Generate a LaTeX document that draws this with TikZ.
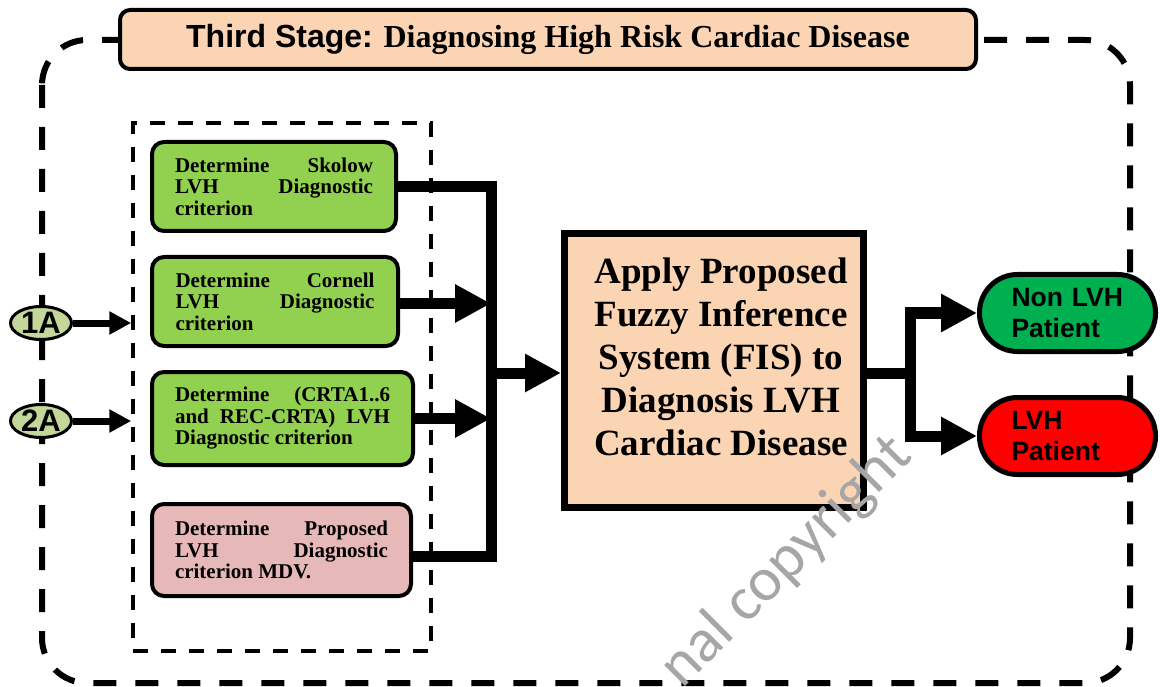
\documentclass[tikz,border=0pt]{standalone}
\usepackage{fontspec}
\setmainfont{Liberation Serif}
\newfontfamily\headsans{Liberation Sans}
\newfontfamily\markfont{Carlito}
\usetikzlibrary{arrows.meta,shapes.geometric}

\definecolor{peach}{HTML}{FBD4B4}
\definecolor{leaf}{HTML}{92D050}
\definecolor{rose}{HTML}{E6B9B8}
\definecolor{olive}{HTML}{C4D79B}
\definecolor{okgreen}{HTML}{00B050}
\definecolor{alarm}{HTML}{FF0000}

\begin{document}
\begin{tikzpicture}[x=1pt,y=-1pt,
  outerframe/.style={line width=6pt, dash pattern=on 23pt off 19pt, rounded corners=45pt},
  groupframe/.style={draw, line width=3.5pt, dash pattern=on 15pt off 13pt,
    inner sep=0pt, minimum width=298pt, minimum height=528pt},
  titlebox/.style={draw, fill=peach, line width=4pt, rounded corners=10pt,
    minimum width=856pt, minimum height=59pt, inner sep=0pt,
    font=\bfseries\fontsize{32}{36}\selectfont},
  critbox/.style={draw, line width=4pt, rounded corners=12pt, inner xsep=0pt,
    inner ysep=0pt, align=justify, font=\bfseries\fontsize{21}{21.5}\selectfont},
  fisbox/.style={draw, fill=peach, line width=7pt, minimum width=299pt,
    minimum height=274pt, inner sep=0pt},
  fistext/.style={inner sep=0pt, align=center, font=\bfseries\fontsize{37}{43}\selectfont},
  pill/.style={draw, line width=5pt, rounded corners=38pt, minimum width=176pt,
    minimum height=77pt, inner sep=0pt, text width=112pt, align=left,
    font=\headsans\bfseries\fontsize{26.5}{31}\selectfont},
  inlet/.style={ellipse, draw, fill=olive, line width=3pt, minimum width=61pt,
    minimum height=33pt, inner sep=0pt, font=\headsans\bfseries\fontsize{31}{32}\selectfont},
  conn/.style={line width=11pt, line join=miter},
  bigtip/.style={-{Triangle[length=36pt,width=36pt]}},
  feed/.style={line width=7pt, -{Triangle[length=22pt,width=22pt]}}
]
\useasboundingbox (0,0) rectangle (1160,687);

% outer stage frame
\draw[outerframe] (42,40) rectangle (1130,683);

% stage title
\node[titlebox] (title) at (548,39.5) {\raisebox{-2pt}{{\headsans Third Stage:} Diagnosing High Risk Cardiac Disease}};

% group of diagnostic criteria
\node[groupframe] (grp) at (282,387) {};

\node[critbox, fill=leaf, minimum width=244pt, minimum height=89pt, text width=198pt]
  (sk) at (274,186.5) {Determine\hfill Skolow\\LVH\hfill Diagnostic\\criterion};
\node[critbox, fill=leaf, minimum width=246pt, minimum height=89pt, text width=199pt]
  (cn) at (275,301.5) {Determine\hfill Cornell\\LVH\hfill Diagnostic\\criterion};
\node[critbox, fill=leaf, minimum width=261pt, minimum height=93pt, text width=215pt]
  (cr) at (282.5,418.5) {Determine\hfill (CRTA1..6\\and\hfill REC-CRTA)\hfill LVH\\Diagnostic criterion};
\node[critbox, fill=rose, minimum width=259pt, minimum height=92pt, text width=213pt]
  (md) at (281.5,550) {Determine\hfill Proposed\\LVH\hfill Diagnostic\\criterion MDV.};

% inputs
\node[inlet] (in1) at (41,323) {1A};
\node[inlet] (in2) at (41,421) {2A};
\draw[feed] (in1.east) -- (in1.east -| grp.west);
\draw[feed] (in2.east) -- (in2.east -| grp.west);

% fuzzy inference system
\node[fisbox] (fis) at (714,370.5) {};
\node[fistext] (fist) at (721,357) {Apply Proposed\\Fuzzy Inference\\System (FIS) to\\Diagnosis LVH\\Cardiac Disease};

% outcomes
\node[pill, fill=okgreen] (non) at (1067.5,313) {Non LVH\\Patient};
\node[pill, fill=alarm] (lvh) at (1067.5,436) {LVH\\Patient};

% collecting bus
\coordinate (jb) at (491,556);
\coordinate (jm) at (491,373);
\draw[conn] (sk.east) -| (jb) -- ([yshift=-6pt]md.east);
\draw[conn, bigtip] ([yshift=-2pt]cn.east) -- ([yshift=-2pt]cn.east -| jb);
\draw[conn, bigtip] (cr.east) -- (cr.east -| jb);
\draw[conn, bigtip] (jm) -- (jm -| fis.west);

% decision split
\coordinate (ot) at (910,373);
\draw[conn] (fis.east |- ot) -- (ot);
\draw[conn, bigtip] (ot) |- (non.west);
\draw[conn, bigtip] (ot) |- (lvh.west);

% watermark
\node[rotate=45, anchor=base east, inner sep=0pt, text=black!35,
  font=\markfont\fontsize{62}{62}\selectfont] (wm) at (914,458) {nal copyright};
\end{tikzpicture}
\end{document}
